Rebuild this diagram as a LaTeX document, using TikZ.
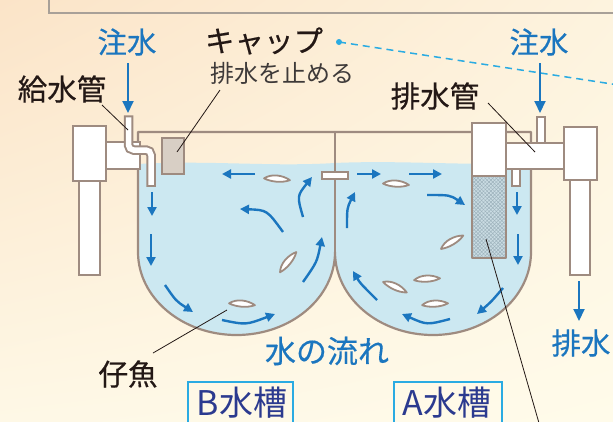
\documentclass[tikz,border=0pt]{standalone}
\usepackage{fontspec}
\setmainfont{Noto Sans CJK JP}
\newfontfamily\labelfont{Noto Sans CJK JP}[FakeBold=0.4]
\usetikzlibrary{arrows.meta,patterns.meta,shadings}

\definecolor{wall}{HTML}{9E8B80}
\definecolor{water}{HTML}{CCE8F1}
\definecolor{flow}{HTML}{1B76BF}
\definecolor{ink}{HTML}{231815}
\definecolor{inksoft}{HTML}{3E3A39}
\definecolor{capfill}{HTML}{D8CFC5}
\definecolor{cyanline}{HTML}{2AABE2}
\definecolor{navy}{HTML}{2B3A8F}
\definecolor{filterbg}{HTML}{CADCE3}
\definecolor{filtermesh}{HTML}{9DB2BC}
\definecolor{framegray}{HTML}{A8A098}
\definecolor{paperUL}{HTML}{FBE4C8}
\definecolor{paperUR}{HTML}{FDF3DE}
\definecolor{paperLL}{HTML}{FEF8E6}
\definecolor{paperLR}{HTML}{FFFBEA}

\tikzset{
  wallline/.style={draw=wall, line width=2.2pt, line join=round},
  pipe/.style={draw=wall, fill=white, line width=2.2pt},
  flowarrow/.style={draw=flow, line width=2.4pt, -{Triangle[length=9pt,width=9pt]}},
  labelarrow/.style={draw=flow, line width=2pt, -{Triangle[length=12pt,width=11pt]}},
  leader/.style={draw=ink, line width=0.8pt},
  lbl/.style={inner sep=0pt, text=ink, font=\labelfont\fontsize{29.5pt}{31pt}\selectfont},
  bluelbl/.style={lbl, text=flow},
  tanklbl/.style={inner sep=0pt, text=navy, font=\fontsize{34pt}{36pt}\selectfont},
  fish/.pic={
    \draw[draw=wall, fill=white, line width=1.8pt, line join=round]
      (-13,0.5) .. controls (-6,-5) and (5,-4.5) .. (13,0)
      .. controls (5,3.8) and (-6,3.3) .. cycle;
  }
}

\begin{document}
\begin{tikzpicture}[x=1pt, y=-1pt]
\useasboundingbox (0,0) rectangle (613,421);
\clip (0,0) rectangle (613,421);

% paper background
\shade[upper left=paperUL, upper right=paperUR,
       lower left=paperLL, lower right=paperLR]
  (0,0) rectangle (613,421);

% frame of the panel above
\draw[framegray, line width=1.5pt] (49,-10) -- (49,13) -- (630,13);

% dashed pointer line
\coordinate (dotA) at (339,42);
\coordinate (dotB) at (625,86);
\draw[cyanline, line width=1.5pt, dash pattern=on 7pt off 5pt] (dotA) -- (dotB);
\fill[cyanline] (dotA) circle (3pt);

% water in both tanks
\fill[water] (138,164) .. controls (210,160) and (270,167) .. (335,163)
  .. controls (400,160) and (470,166) .. (531,163) -- (531,252)
  .. controls (531,297.8) and (487.1,335) .. (433,335)
  .. controls (378.9,335) and (335,297.8) .. (335,252)
  .. controls (335,297.8) and (290.9,335) .. (236.5,335)
  .. controls (182.1,335) and (138,297.8) .. (138,252) -- cycle;

% fry
\pic[rotate=-5] at (277,179) {fish};
\pic[rotate=50] at (288,262) {fish};
\pic[rotate=-5] at (242,304) {fish};
\pic[rotate=-4] at (396,184) {fish};
\pic[rotate=30] at (452,242) {fish};
\pic[rotate=3] at (427,279) {fish};
\pic[rotate=-25] at (395,287) {fish};
\pic[rotate=3] at (435,304) {fish};

% water flow in tank B
\draw[flowarrow] (152,192) -- (152,216);
\draw[flowarrow] (151,234) -- (151,266);
\draw[flowarrow] (165,285) .. controls (176,301) .. (193,312);
\draw[flowarrow] (222,320) .. controls (246,325) .. (275,314);
\draw[flowarrow] (303,282) .. controls (317,262) .. (322,237);
\draw[flowarrow] (303,217) .. controls (297,196) .. (312,177);
\draw[flowarrow] (255,174) -- (222,174);
\draw[flowarrow] (283,232) .. controls (267,210) .. (240,209);

% water flow in tank A
\draw[flowarrow] (357,174) -- (381,174);
\draw[flowarrow] (409,174) -- (442,174);
\draw[flowarrow] (427,195) .. controls (450,195) .. (465,205);
\draw[flowarrow] (517,192) -- (517,215);
\draw[flowarrow] (518,234) -- (518,265);
\draw[flowarrow] (503,288) .. controls (491,302) .. (477,314);
\draw[flowarrow] (450,319) .. controls (427,325) .. (402,314);
\draw[flowarrow] (377,300) .. controls (360,283) .. (353,271);
\draw[flowarrow] (347,228) .. controls (347,208) .. (355,192);

% tank walls and divider
\draw[wallline] (138,132) -- (138,252)
  .. controls (138,297.8) and (182.1,335) .. (236.5,335)
  .. controls (290.9,335) and (335,297.8) .. (335,252)
  .. controls (335,297.8) and (378.9,335) .. (433,335)
  .. controls (487.1,335) and (531,297.8) .. (531,252)
  -- (531,132) -- cycle;
\draw[wallline] (335,132) -- (335,256);
\draw[pipe, line width=2pt] (322,172) rectangle (348,179);

% left stand and supply side
\draw[pipe] (79,181) rectangle (100,275);
\draw[pipe] (73,126) rectangle (106,181);
\draw[pipe] (106,142) rectangle (140,169);
\draw[draw=wall, fill=capfill, line width=2.2pt] (162,138) rectangle (184,174);
\draw[wall, line width=9.5pt, line cap=rect, rounded corners=5pt]
  (128.5,120) -- (128.5,150) -- (151,150) -- (151,182);
\draw[white, line width=5.5pt, line cap=rect, rounded corners=5pt]
  (128.5,120) -- (128.5,150) -- (151,150) -- (151,182);

% right stand, drain pipe and filter
\draw[pipe] (570,180) rectangle (590,275);
\draw[pipe] (537,117) rectangle (545,143);
\draw[pipe] (512,169) rectangle (520,186);
\draw[pipe] (506,143) rectangle (564,169);
\draw[pipe] (564,127) rectangle (597,180);
\fill[filterbg] (472,176) rectangle (506,258);
\fill[pattern={Lines[angle=45,distance=2.6pt,line width=0.5pt]}, pattern color=filtermesh]
  (472,176) rectangle (506,258);
\fill[pattern={Lines[angle=-45,distance=2.6pt,line width=0.5pt]}, pattern color=filtermesh]
  (472,176) rectangle (506,258);
\draw[wallline] (472,176) rectangle (506,258);
\draw[pipe] (472,123) rectangle (506,176);

% labels
\node[bluelbl] (inL) at (127,42) {注水};
\node[bluelbl] (inR) at (539,42) {注水};
\node[lbl] (supply) at (62,89) {給水管};
\node[lbl] (capT) at (264,41) {キャップ};
\node[inner sep=0pt, text=inksoft, font=\fontsize{24pt}{26pt}\selectfont] (capN) at (282,73) {排水を止める};
\node[lbl] (drainP) at (435,96) {排水管};
\node[bluelbl] (outR) at (581,343) {排水};
\node[bluelbl, font=\labelfont\fontsize{31pt}{33pt}\selectfont] (flowL) at (327,351) {水の流れ};
\node[lbl] (fry) at (128,374) {仔魚};

\draw[cyanline, line width=1.6pt] (188,382) rectangle (293,440);
\draw[cyanline, line width=1.6pt] (394,382) rectangle (502,440);
\node[tanklbl] (tankB) at (242,403) {B水槽};
\node[tanklbl] (tankA) at (447,403) {A水槽};

% pour and drain arrows
\coordinate (inLtop) at (128,63);
\coordinate (inLend) at (128,113);
\coordinate (inRtop) at (540,63);
\coordinate (inRend) at (540,113);
\coordinate (outtop) at (579,281);
\coordinate (outend) at (579,321);
\draw[labelarrow] (inLtop) -- (inLend);
\draw[labelarrow] (inRtop) -- (inRend);
\draw[labelarrow] (outtop) -- (outend);

% leader lines
\coordinate (supplyA) at (102,105);  \coordinate (supplyB) at (128,130);
\coordinate (capA) at (220,90);      \coordinate (capB) at (177,152);
\coordinate (drainA) at (488,103);   \coordinate (drainB) at (535,152);
\coordinate (fryA) at (153,353);     \coordinate (fryB) at (227,310);
\coordinate (filterA) at (486,239);  \coordinate (filterB) at (541,430);
\draw[leader] (supplyA) -- (supplyB);
\draw[leader] (capA) -- (capB);
\draw[leader] (drainA) -- (drainB);
\draw[leader] (fryA) -- (fryB);
\draw[leader] (filterA) -- (filterB);
\end{tikzpicture}
\end{document}
